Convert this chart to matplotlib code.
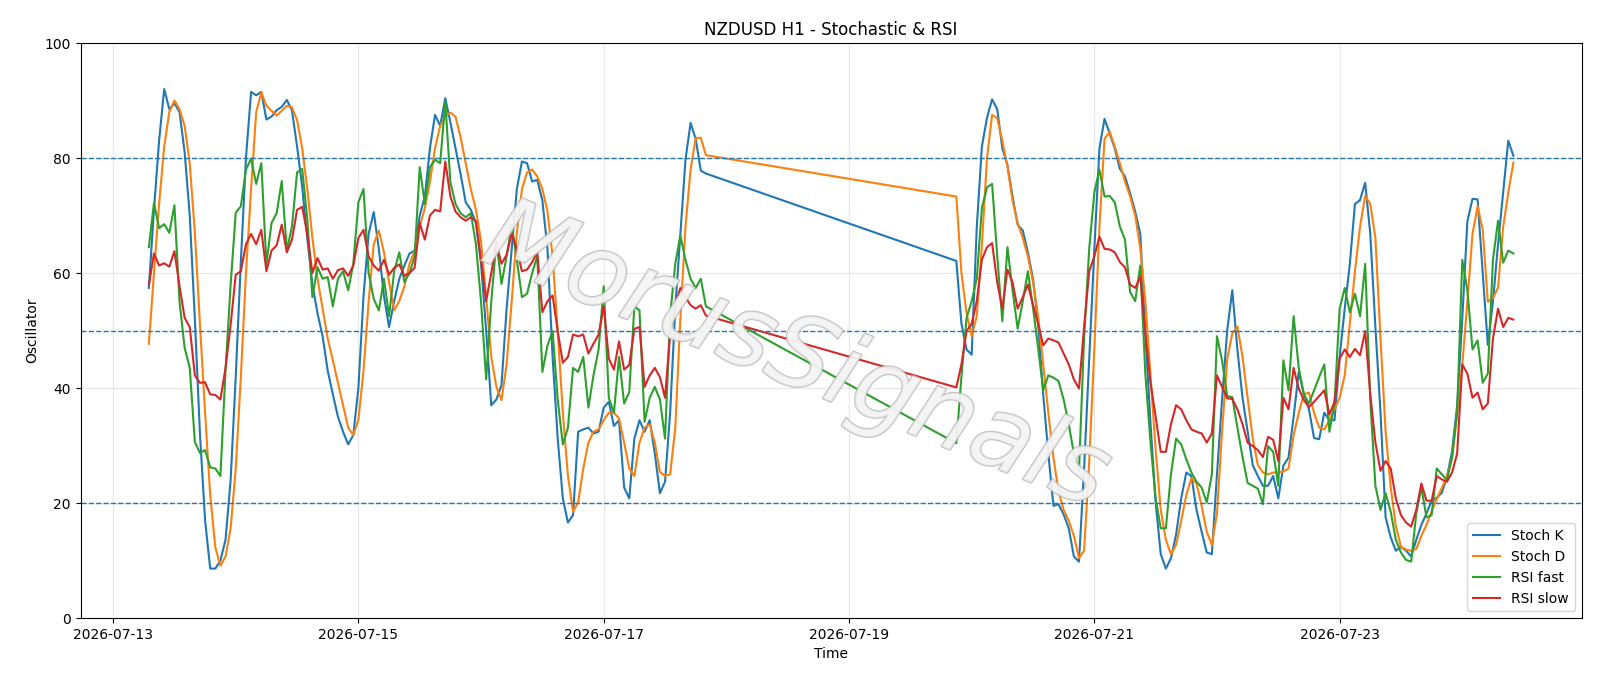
import matplotlib
matplotlib.use("Agg")
import matplotlib.pyplot as plt
import matplotlib.dates as mdates
import matplotlib.patheffects as pe
import pandas as pd

# ---- data (hourly, two trading segments joined across the weekend) ----
seg1_start = "2026-07-13 07:00"
seg2_start = "2026-07-19 21:00"

stoch_k_1 = [57.4, 71, 83, 92, 88.5, 89.5, 88, 81, 70, 52,
             32, 17, 8.6, 8.6, 10, 13.6, 24, 42, 62, 80,
             91.5, 90.9, 91.5, 86.7, 87.2, 88.3, 88.9, 90.1, 88.3, 82,
             75, 66, 58, 53, 49, 43, 38.9, 35, 32.4, 30.2,
             31.8, 40, 56, 66.8, 70.6, 64.2, 56, 50.6, 55.1, 59,
             61.3, 63.4, 63.9, 70, 73.3, 81.7, 87.5, 85.6, 90.4, 86.2,
             81.7, 77.2, 72.3, 71, 68.7, 61.6, 50, 37, 38, 40.5,
             53.8, 64.2, 74.6, 79.4, 79.1, 75.9, 76.2, 72.6, 64.2, 45.4,
             31.2, 20.8, 16.6, 17.9, 32.4, 32.8, 33.1, 32.1, 32.4, 36.6,
             37.6, 33.4, 34.4, 22.7, 20.8, 31.2, 34.4, 32.4, 34.4, 28.6,
             21.7, 23.7, 35.7, 53.8, 66.8, 79.7, 86.1, 83.3, 77.8, 77.3]
stoch_k_2 = [62.1, 51.2, 46.7, 45.8, 68, 82, 87, 90.2, 88.5, 81.7,
             78.8, 73.3, 68.4, 67.4, 63.6, 59, 51.2, 38.9, 28.6, 19.5,
             19.8, 18, 15.6, 10.7, 9.8, 26, 45, 64, 81.7, 86.8,
             84.3, 81.7, 78.1, 76.8, 73.9, 70.7, 66.8, 49.3, 33.8, 20.1,
             11.1, 8.6, 10.4, 14.5, 20.8, 25.3, 24.7, 18.8, 15, 11.4,
             11.1, 25, 38, 50, 57, 46.7, 38.3, 32.4, 26.6, 24.7,
             23, 23, 24.7, 20.8, 26.5, 27.9, 35, 42.8, 39, 36.3,
             31.3, 31.1, 35.7, 34.4, 34.4, 45.4, 53.8, 61.6, 72, 72.7,
             75.7, 66.8, 50.6, 35.7, 17.5, 14, 11.7, 12.4, 11.7, 10.7,
             13.6, 16.2, 18.2, 20.4, 20.9, 21.8, 24.5, 29, 37, 52,
             69, 72.9, 72.8, 60, 47.5, 55, 65, 74, 83, 80.4]

stoch_d_1 = [47.7, 60, 72, 82, 88, 90, 88.5, 85.6, 79, 67,
             51, 35.7, 21.4, 12.3, 9.1, 10.7, 15.6, 26, 42, 60,
             74.6, 88, 91.4, 89.1, 88.2, 87.4, 88.2, 89.1, 88.8, 86.6,
             81.7, 74.6, 66.1, 59, 53.8, 48.6, 44.8, 40.9, 37, 33.1,
             31.8, 34.5, 43, 55, 65, 67.4, 63.6, 58.4, 53.5, 55.1,
             57.7, 61.6, 63.9, 68.1, 71.3, 75.9, 81.7, 85.6, 87.2, 87.9,
             87.2, 83.6, 79.1, 74.6, 71, 65.5, 55.8, 45.4, 40.2, 37.9,
             44.1, 55.1, 67, 74.6, 77.5, 78, 76.8, 74.6, 70.7, 62.9,
             49.9, 35.7, 24.7, 18.5, 20.1, 26, 30.5, 32.4, 32.8, 34.4,
             35.7, 35.7, 34.7, 30.5, 26, 24.7, 30.5, 33.1, 33.7, 30.5,
             25.4, 24.7, 25, 33, 52, 68, 78, 83.5, 83.5, 80.5]
stoch_d_2 = [73.3, 60, 53, 49, 52.5, 64.8, 80, 87.5, 86.9, 83,
             78.5, 72.6, 68.7, 66.1, 62.9, 58.4, 52.5, 44.1, 35.7, 27.9,
             22, 18.8, 16.9, 14.3, 10.4, 11.7, 27, 46.7, 68, 83.3,
             84.6, 82, 79.1, 75.9, 73.3, 70, 64.2, 55, 42.2, 29.2,
             18.8, 13.6, 11.1, 12.7, 16.9, 21.4, 24.3, 23.4, 19.5, 15,
             12.7, 18.2, 32.4, 45, 49.5, 50.7, 45.4, 38.3, 31.2, 26.6,
             25.3, 25, 25.3, 25.3, 25.5, 26, 31.8, 35.7, 38.9, 39.2,
             35.7, 33.1, 32.8, 34.4, 36.3, 38.3, 42.2, 51.2, 60.3, 68.1,
             73.4, 72, 66.1, 48.6, 32.4, 22.7, 16, 12.4, 11.9, 11.7,
             12, 14.3, 16.2, 18.5, 20.7, 22.6, 24.6, 27.8, 35.7, 44,
             55, 66.8, 71.6, 67.5, 55, 55.6, 57.5, 68, 74, 79.2]

rsi_fast_1 = [64.5, 72.2, 67.8, 68.5, 67, 71.8, 55, 47, 43.5, 30.6,
              28.7, 29.2, 26.2, 26, 24.7, 43, 58, 70.5, 71.6, 78,
              79.9, 75.5, 79.1, 61.6, 68.7, 70.4, 76, 63.9, 68.1, 77.5,
              78.1, 69.4, 55.8, 61, 59, 59.3, 54.2, 59, 60.3, 57,
              61.6, 72.3, 74.6, 60, 55.5, 53.5, 59, 52.5, 60.3, 63.6,
              58.4, 60, 62.9, 78.4, 72, 78.4, 79.7, 79.1, 89.8, 75.8,
              72, 70.4, 69.7, 70.4, 65, 55, 41.5, 55, 65.5, 58.1,
              62.9, 68.4, 62.3, 55.8, 56.4, 60, 62.9, 42.8, 47.4, 49.9,
              38, 30.2, 33.1, 43.5, 42.8, 45.4, 36.6, 42.2, 46.7, 57.7,
              38.3, 35.7, 45.4, 37.3, 39.3, 54.2, 53.5, 34.1, 38.3, 40.2,
              38, 31.2, 52.6, 61.6, 66.5, 62.3, 59, 57.4, 59, 54.2]
rsi_fast_2 = [30.4, 42, 52.2, 55.1, 59, 71.3, 74.9, 75.5, 63, 51.6,
              64.5, 57, 50.3, 55.1, 60.3, 54, 47, 39.6, 42.2, 41.8,
              41.2, 38, 33.7, 28.6, 25.6, 48.7, 64.2, 74, 78, 73.3,
              73.4, 72.3, 68.1, 65.8, 56.7, 55.1, 61.3, 42.2, 30.5, 20.8,
              15.6, 15.6, 25, 31.2, 30.2, 27.6, 25.3, 23.7, 22.7, 20.1,
              25, 49, 44.8, 38.6, 38.4, 33.1, 28, 23.5, 23, 22.5,
              19.8, 29.9, 28.9, 23, 44.8, 39.6, 52.5, 43.5, 38.9, 37.3,
              39.6, 41.9, 44.1, 32.4, 37.3, 53.8, 57.4, 53.2, 56.4, 52.5,
              61.6, 38, 23, 18.8, 21.7, 18.5, 13.6, 11.4, 10.1, 9.8,
              18.2, 22.7, 17.5, 17.9, 26, 25, 24, 27.9, 35.7, 62.3,
              57, 46.7, 48.3, 40.9, 42.5, 62.3, 69.1, 61.8, 63.9, 63.4]

rsi_slow_1 = [57.9, 63.4, 61.3, 61.7, 61.1, 63.8, 57.7, 52.2, 50.6, 42.2,
              40.9, 41, 38.9, 38.8, 38, 43.5, 51, 59.7, 60.3, 65,
              66.8, 65, 67.5, 60.3, 63.9, 64.8, 68.4, 63.6, 65.8, 71,
              71.5, 66.8, 60, 62.6, 60.6, 60.8, 59, 60.5, 60.8, 59.5,
              61.3, 66.1, 67.5, 62.9, 61.3, 60.4, 62.3, 59.7, 60.9, 61.5,
              59.5, 60, 60.9, 68.7, 65.8, 70, 71, 70.7, 79.4, 73.3,
              70.7, 69.7, 69.1, 69.7, 69, 62.3, 55.1, 60, 65.2, 61.6,
              63.2, 66.8, 64.2, 60.3, 60.6, 61.9, 63.6, 53.2, 55.1, 56.1,
              49.9, 44.4, 45.4, 49.3, 49, 49.3, 46, 47.7, 49.3, 54.2,
              45.1, 43.2, 48.1, 43.2, 44, 50.3, 50.6, 40.2, 42.2, 43.5,
              41.9, 38.3, 49.3, 54.5, 57.4, 55.8, 54.4, 53.8, 54.4, 52.6]
rsi_slow_2 = [40.1, 44.1, 49.9, 51.2, 55.1, 62.3, 64.5, 65.2, 58.4, 53.8,
              60.6, 58.4, 53.8, 55.8, 58, 54.5, 51.2, 47.4, 48.6, 48.3,
              47.9, 46, 44.1, 41.5, 39.9, 50.6, 60.3, 62.9, 66.3, 64.2,
              64.1, 63.6, 61.9, 61, 58, 57.4, 59.4, 49.3, 40.9, 35,
              28.9, 28.9, 33.7, 37, 36.3, 34.4, 32.8, 32.4, 32.1, 30.5,
              32.1, 42.2, 40.2, 38.2, 38.1, 36.3, 33.7, 30.5, 29.9, 29.2,
              28, 31.5, 31, 27.3, 38.3, 36.3, 43.5, 39.9, 37.9, 36.7,
              37.6, 38.6, 39.6, 35.4, 37.6, 45.1, 46.7, 45.4, 46.8, 45.7,
              49.9, 38.9, 30.5, 25.6, 27.3, 26, 20.8, 17.9, 16.6, 15.9,
              18.8, 23.4, 20.4, 20.4, 24.7, 24.1, 23.7, 25.3, 28.6, 44.1,
              42.5, 38.3, 39.2, 36.3, 37.3, 48.6, 53.8, 50.6, 52.2, 51.9]

levels = [80, 50, 20]
title = "NZDUSD H1 - Stochastic & RSI"
watermark = "MorusSignals"

# ---- build series ----
t1 = pd.date_range(seg1_start, periods=len(stoch_k_1), freq="h")
t2 = pd.date_range(seg2_start, periods=len(stoch_k_2), freq="h")
times = t1.append(t2)
stoch_k = stoch_k_1 + stoch_k_2
stoch_d = stoch_d_1 + stoch_d_2
rsi_fast = rsi_fast_1 + rsi_fast_2
rsi_slow = rsi_slow_1 + rsi_slow_2

fig, ax = plt.subplots(figsize=(16, 6.86), dpi=100)
ax.plot(times, stoch_k, color="C0", lw=1.5, label="Stoch K")
ax.plot(times, stoch_d, color="C1", lw=1.5, label="Stoch D")
ax.plot(times, rsi_fast, color="C2", lw=1.5, label="RSI fast")
ax.plot(times, rsi_slow, color="C3", lw=1.5, label="RSI slow")
for lv in levels:
    ax.axhline(lv, color="C0", ls="--", lw=1.0)

ax.set_ylim(0, 100)
ax.set_title(title, fontsize=12)
ax.set_xlabel("Time")
ax.set_ylabel("Oscillator")
ax.grid(True, alpha=0.3)
ax.xaxis.set_major_locator(mdates.DayLocator(bymonthday=range(1, 32, 2)))
ax.xaxis.set_major_formatter(mdates.DateFormatter("%Y-%m-%d"))
ax.legend(loc="lower right", fontsize=10)

ax.text(0.477, 0.452, watermark, transform=ax.transAxes, fontsize=72,
        color="#f4f4f4", alpha=0.75, rotation=-22, ha="center", va="center",
        style="italic", zorder=5,
        path_effects=[pe.withStroke(linewidth=1.6, foreground="#b0b0b0")])

fig.subplots_adjust(left=0.0504, right=0.9885, top=0.9373, bottom=0.0991)
fig.savefig("out.png", dpi=100)
